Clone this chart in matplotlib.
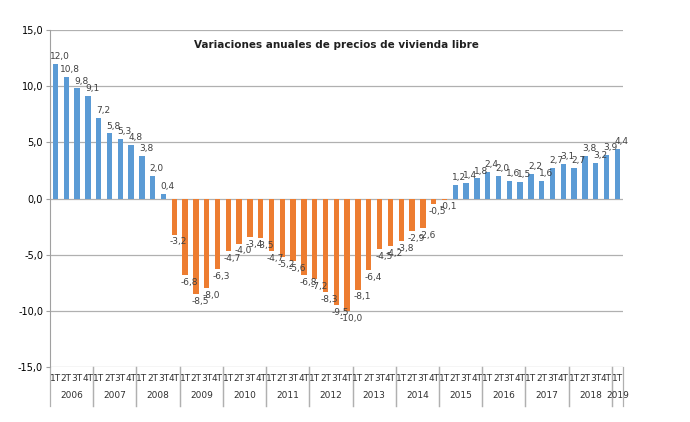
import numpy as np
import matplotlib
matplotlib.use('Agg')
import matplotlib.pyplot as plt

years = ['2006', '2007', '2008', '2009', '2010', '2011', '2012',
         '2013', '2014', '2015', '2016', '2017', '2018', '2019']
quarters = ['1T', '2T', '3T', '4T']
values = [12.0, 10.8, 9.8, 9.1,
          7.2, 5.8, 5.3, 4.8,
          3.8, 2.0, 0.4, -3.2,
          -6.8, -8.5, -8.0, -6.3,
          -4.7, -4.0, -3.4, -3.5,
          -4.7, -5.2, -5.6, -6.8,
          -7.2, -8.3, -9.5, -10.0,
          -8.1, -6.4, -4.5, -4.2,
          -3.8, -2.9, -2.6, -0.5,
          -0.1, 1.2, 1.4, 1.8,
          2.4, 2.0, 1.6, 1.5,
          2.2, 1.6, 2.7, 3.1,
          2.7, 3.8, 3.2, 3.9,
          4.4]

blue = '#5B9BD5'
orange = '#ED7D31'

fig = plt.figure(figsize=(6.9, 4.22), dpi=100)
ax = fig.add_axes([0.0725, 0.130, 0.83, 0.799])

n = len(values)
x = np.arange(n)
colors = [blue if v >= 0 else orange for v in values]
ax.bar(x, values, width=0.5, color=colors, zorder=3)

for xi, v in zip(x, values):
    lab = ('%.1f' % v).replace('.', ',')
    if v >= 0:
        ax.annotate(lab, (xi, v), xytext=(3, 2), textcoords='offset points',
                    ha='center', va='bottom', fontsize=6.5, color='#404040')
    else:
        ax.annotate(lab, (xi, v), xytext=(3, -2), textcoords='offset points',
                    ha='center', va='top', fontsize=6.5, color='#404040')

ax.set_xlim(-0.5, n - 0.5)
ax.set_ylim(-15, 15)
yt = np.arange(-15, 16, 5)
ax.set_yticks(yt)
ax.set_yticklabels([('%.1f' % t).replace('.', ',') for t in yt], fontsize=7)
ax.tick_params(axis='y', length=3, color='#a0a0a0', pad=2)
for t in yt:
    ax.axhline(t, color='#b0b0b0', linewidth=0.9, zorder=1)

ax.set_xticks([])
for s in ['top', 'right', 'bottom']:
    ax.spines[s].set_visible(False)
ax.spines['left'].set_color('#a0a0a0')

# quarter and year labels
trans = ax.get_xaxis_transform()
for xi in x:
    ax.text(xi, -0.035, quarters[xi % 4], transform=trans, ha='center',
            va='center', fontsize=6.5, color='#303030')
for i, yr in enumerate(years):
    start = i * 4
    end = min(start + 4, n)
    mid = (start + end - 1) / 2
    ax.text(mid, -0.085, yr, transform=trans, ha='center', va='center',
            fontsize=6.5, color='#303030')
    for b in [start - 0.5, end - 0.5]:
        ax.plot([b, b], [0, -0.115], transform=trans, color='#b0b0b0',
                linewidth=0.9, clip_on=False)

ax.text(0.5, 0.955, 'Variaciones anuales de precios de vivienda libre',
        transform=ax.transAxes, ha='center', va='center', fontsize=7.5,
        fontweight='bold', color='#202020')

fig.savefig('out.png', dpi=100)
